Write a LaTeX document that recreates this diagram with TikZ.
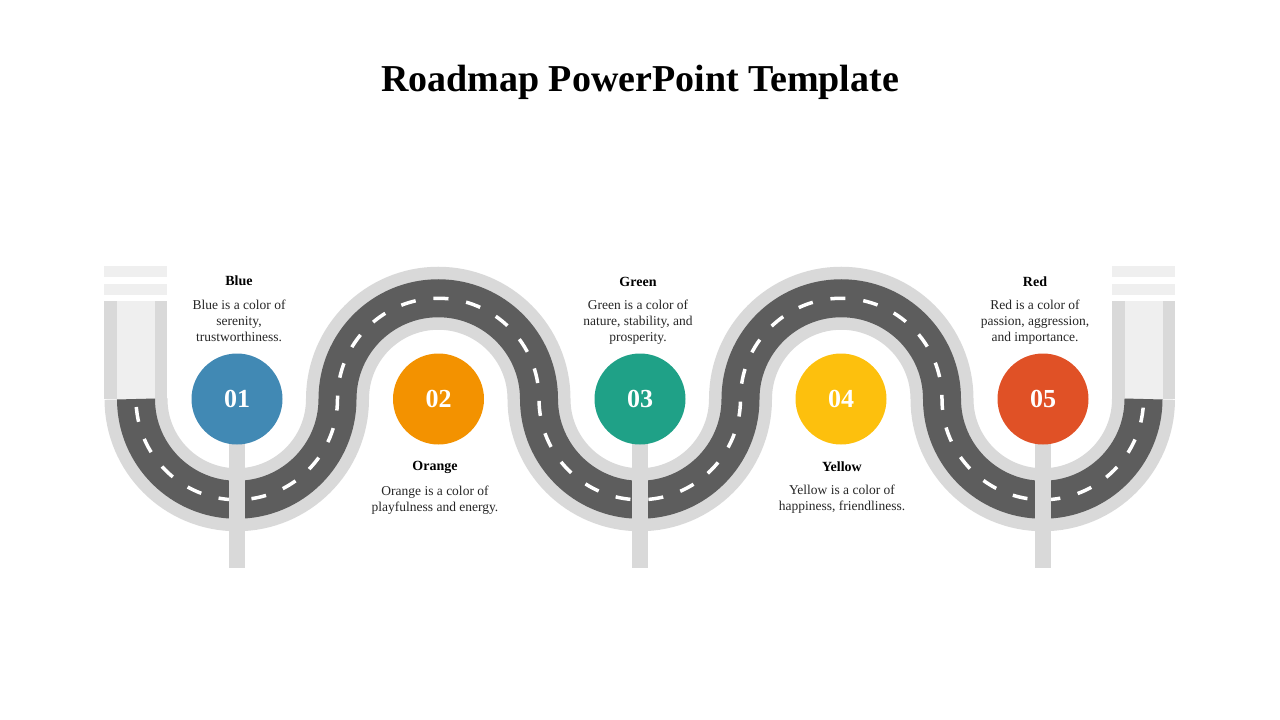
\documentclass[tikz,border=0pt]{standalone}
\usepackage{fontspec}
\setmainfont{Liberation Serif}
\begin{document}
\begin{tikzpicture}[x=1pt,y=-1pt,
  num/.style={circle,minimum size=91pt,inner sep=0pt,text=white,font=\bfseries\fontsize{26}{26}\selectfont},
  hd/.style={font=\bfseries\fontsize{14}{16}\selectfont},
  desc/.style={align=center,font=\fontsize{13.5}{16}\selectfont,text=black!85}]
\definecolor{edge}{HTML}{D9D9D9}
\definecolor{asph}{HTML}{5D5D5D}
\definecolor{pale}{HTML}{EFEFEF}
\definecolor{cblue}{HTML}{4189B4}
\definecolor{corange}{HTML}{F39200}
\definecolor{cgreen}{HTML}{1FA187}
\definecolor{cyellow}{HTML}{FDC00D}
\definecolor{cred}{HTML}{E05126}
\useasboundingbox (0,0) rectangle (1280,720);
\node[font=\bfseries\fontsize{38}{38}\selectfont] (title) at (640,82) {Roadmap PowerPoint Template};
% end caps
\foreach \cx in {136,1144}{
  \fill[edge] (\cx-32,301) rectangle (\cx+31,399);
  \fill[pale] (\cx-19,301) rectangle (\cx+19,399);
  \fill[pale] (\cx-32,266) rectangle (\cx+31,277);
  \fill[pale] (\cx-32,284) rectangle (\cx+31,295);
}
\def\roadpath{(136,399) arc[start angle=180,end angle=0,radius=100.75]
  arc[start angle=180,end angle=360,radius=100.75]
  arc[start angle=180,end angle=0,radius=100.75]
  arc[start angle=180,end angle=360,radius=100.75]
  arc[start angle=180,end angle=0,radius=100.75]}
\draw[edge,line width=63pt] \roadpath;
\draw[asph,line width=38pt] \roadpath;
\draw[white,line width=3.5pt,dash pattern=on 15pt off 18pt,dash phase=-8pt] \roadpath;
% stems
\foreach \sx in {237,640,1043}{
  \fill[edge] (\sx-8,440) rectangle (\sx+8,568);
}
\node[num,fill=cblue] (n1) at (237,399) {01};
\node[num,fill=corange] (n2) at (438.5,399) {02};
\node[num,fill=cgreen] (n3) at (640,399) {03};
\node[num,fill=cyellow] (n4) at (841,399) {04};
\node[num,fill=cred] (n5) at (1043,399) {05};
\node[hd] (h1) at (239,281) {Blue};
\node[desc] (d1) at (239,321) {Blue is a color of\\serenity,\\trustworthiness.};
\node[hd] (h3) at (638,282) {Green};
\node[desc] (d3) at (638,322) {Green is a color of\\nature, stability, and\\prosperity.};
\node[hd] (h5) at (1035,282) {Red};
\node[desc] (d5) at (1035,322) {Red is a color of\\passion, aggression,\\and importance.};
\node[hd] (h2) at (435,467) {Orange};
\node[desc] (d2) at (435,500) {Orange is a color of\\playfulness and energy.};
\node[hd] (h4) at (842,467) {Yellow};
\node[desc] (d4) at (842,499) {Yellow is a color of\\happiness, friendliness.};
\end{tikzpicture}
\end{document}
